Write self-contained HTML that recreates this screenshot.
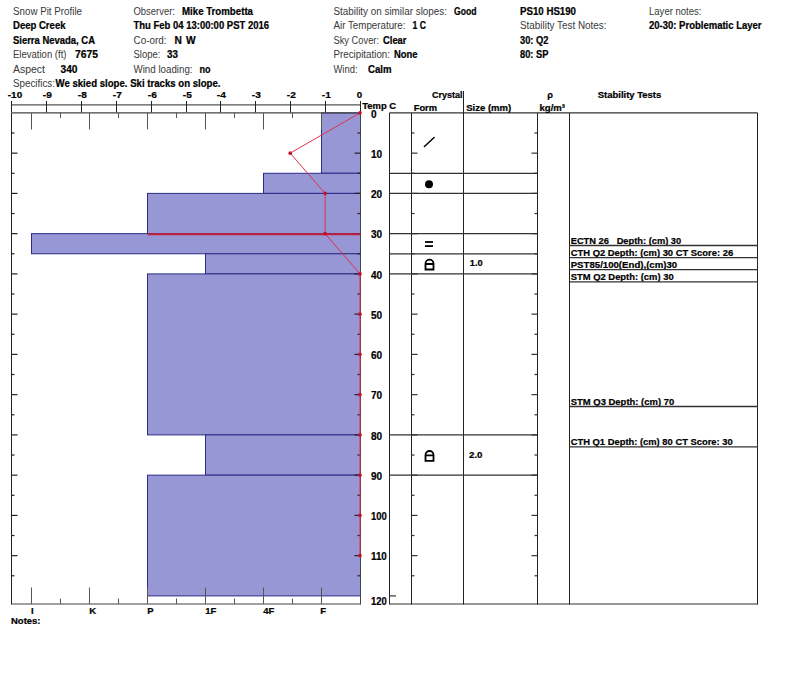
<!DOCTYPE html>
<html><head><meta charset="utf-8"><title>Snow Pit Profile</title>
<style>
html,body{margin:0;padding:0;background:#fff;}
body{width:800px;height:676px;overflow:hidden;}
svg{display:block;font-family:'Liberation Sans', Arial, sans-serif;}
.b{stroke:#000;stroke-width:0.22px;}
</style></head><body>
<svg width="800" height="676" viewBox="0 0 800 676">
<rect width="800" height="676" fill="#fff"/>
<text x="13" y="14.9" font-size="10" textLength="69" lengthAdjust="spacingAndGlyphs" fill="#383838" xml:space="preserve">Snow Pit Profile</text>
<text x="13" y="29.35" font-size="10.2" font-weight="bold" class="b" textLength="52.5" lengthAdjust="spacingAndGlyphs" xml:space="preserve">Deep Creek</text>
<text x="13" y="43.8" font-size="10.2" font-weight="bold" class="b" textLength="82" lengthAdjust="spacingAndGlyphs" xml:space="preserve">Sierra Nevada, CA</text>
<text x="13" y="58.25" font-size="10" textLength="53.5" lengthAdjust="spacingAndGlyphs" fill="#383838" xml:space="preserve">Elevation (ft)</text>
<text x="75" y="58.25" font-size="10.2" font-weight="bold" class="b" textLength="23" lengthAdjust="spacingAndGlyphs" xml:space="preserve">7675</text>
<text x="13" y="72.7" font-size="10" textLength="32" lengthAdjust="spacingAndGlyphs" fill="#383838" xml:space="preserve">Aspect</text>
<text x="60.5" y="72.7" font-size="10.2" font-weight="bold" class="b" textLength="17" lengthAdjust="spacingAndGlyphs" xml:space="preserve">340</text>
<text x="13" y="87.15" font-size="10" textLength="42" lengthAdjust="spacingAndGlyphs" fill="#383838" xml:space="preserve">Specifics:</text>
<text x="55.5" y="87.15" font-size="10.2" font-weight="bold" class="b" textLength="165" lengthAdjust="spacingAndGlyphs" xml:space="preserve">We skied slope. Ski tracks on slope.</text>
<text x="133.5" y="14.9" font-size="10" textLength="41.5" lengthAdjust="spacingAndGlyphs" fill="#383838" xml:space="preserve">Observer:</text>
<text x="182" y="14.9" font-size="10.2" font-weight="bold" class="b" textLength="71" lengthAdjust="spacingAndGlyphs" xml:space="preserve">Mike Trombetta</text>
<text x="133.5" y="29.35" font-size="10.2" font-weight="bold" class="b" textLength="135.5" lengthAdjust="spacingAndGlyphs" xml:space="preserve">Thu Feb 04 13:00:00 PST 2016</text>
<text x="133.5" y="43.8" font-size="10" textLength="33" lengthAdjust="spacingAndGlyphs" fill="#383838" xml:space="preserve">Co-ord:</text>
<text x="174.5" y="43.8" font-size="10.2" font-weight="bold" class="b" xml:space="preserve">N</text>
<text x="186" y="43.8" font-size="10.2" font-weight="bold" class="b" xml:space="preserve">W</text>
<text x="133.5" y="58.25" font-size="10" textLength="27" lengthAdjust="spacingAndGlyphs" fill="#383838" xml:space="preserve">Slope:</text>
<text x="167" y="58.25" font-size="10.2" font-weight="bold" class="b" textLength="11" lengthAdjust="spacingAndGlyphs" xml:space="preserve">33</text>
<text x="133.5" y="72.7" font-size="10" textLength="59" lengthAdjust="spacingAndGlyphs" fill="#383838" xml:space="preserve">Wind loading:</text>
<text x="199.5" y="72.7" font-size="10.2" font-weight="bold" class="b" textLength="11" lengthAdjust="spacingAndGlyphs" xml:space="preserve">no</text>
<text x="333.5" y="14.9" font-size="10" textLength="113.5" lengthAdjust="spacingAndGlyphs" fill="#383838" xml:space="preserve">Stability on similar slopes:</text>
<text x="454" y="14.9" font-size="10.2" font-weight="bold" class="b" textLength="22.5" lengthAdjust="spacingAndGlyphs" xml:space="preserve">Good</text>
<text x="333.5" y="29.35" font-size="10" textLength="72" lengthAdjust="spacingAndGlyphs" fill="#383838" xml:space="preserve">Air Temperature:</text>
<text x="412.5" y="29.35" font-size="10.2" font-weight="bold" class="b" textLength="13.5" lengthAdjust="spacingAndGlyphs" xml:space="preserve">1 C</text>
<text x="333.5" y="43.8" font-size="10" textLength="45.5" lengthAdjust="spacingAndGlyphs" fill="#383838" xml:space="preserve">Sky Cover:</text>
<text x="383" y="43.8" font-size="10.2" font-weight="bold" class="b" textLength="23.5" lengthAdjust="spacingAndGlyphs" xml:space="preserve">Clear</text>
<text x="333.5" y="58.25" font-size="10" textLength="56.5" lengthAdjust="spacingAndGlyphs" fill="#383838" xml:space="preserve">Precipitation:</text>
<text x="394" y="58.25" font-size="10.2" font-weight="bold" class="b" textLength="23.5" lengthAdjust="spacingAndGlyphs" xml:space="preserve">None</text>
<text x="333.5" y="72.7" font-size="10" textLength="24" lengthAdjust="spacingAndGlyphs" fill="#383838" xml:space="preserve">Wind:</text>
<text x="368" y="72.7" font-size="10.2" font-weight="bold" class="b" textLength="23.5" lengthAdjust="spacingAndGlyphs" xml:space="preserve">Calm</text>
<text x="520" y="14.9" font-size="10.2" font-weight="bold" class="b" textLength="56" lengthAdjust="spacingAndGlyphs" xml:space="preserve">PS10 HS190</text>
<text x="520" y="29.35" font-size="10" textLength="86.5" lengthAdjust="spacingAndGlyphs" fill="#383838" xml:space="preserve">Stability Test Notes:</text>
<text x="520" y="43.8" font-size="10.2" font-weight="bold" class="b" textLength="28.5" lengthAdjust="spacingAndGlyphs" xml:space="preserve">30: Q2</text>
<text x="520" y="58.25" font-size="10.2" font-weight="bold" class="b" textLength="28.5" lengthAdjust="spacingAndGlyphs" xml:space="preserve">80: SP</text>
<text x="649" y="14.9" font-size="10" textLength="52.5" lengthAdjust="spacingAndGlyphs" fill="#383838" xml:space="preserve">Layer notes:</text>
<text x="649" y="29.35" font-size="10.2" font-weight="bold" class="b" textLength="112.5" lengthAdjust="spacingAndGlyphs" xml:space="preserve">20-30: Problematic Layer</text>
<line x1="11" y1="104.9" x2="361" y2="104.9" stroke="#555" stroke-width="1.4"/>
<line x1="11.5" y1="101" x2="11.5" y2="112.5" stroke="#222" stroke-width="1"/>
<text x="7.8" y="98.0" font-size="9.8" font-weight="bold" class="b" textLength="14.4" lengthAdjust="spacingAndGlyphs" xml:space="preserve">-10</text>
<line x1="46.5" y1="101" x2="46.5" y2="112.5" stroke="#222" stroke-width="1"/>
<text x="42.8" y="98.0" font-size="9.8" font-weight="bold" class="b" textLength="9.0" lengthAdjust="spacingAndGlyphs" xml:space="preserve">-9</text>
<line x1="81.5" y1="101" x2="81.5" y2="112.5" stroke="#222" stroke-width="1"/>
<text x="77.8" y="98.0" font-size="9.8" font-weight="bold" class="b" textLength="9.0" lengthAdjust="spacingAndGlyphs" xml:space="preserve">-8</text>
<line x1="116.5" y1="101" x2="116.5" y2="112.5" stroke="#222" stroke-width="1"/>
<text x="112.8" y="98.0" font-size="9.8" font-weight="bold" class="b" textLength="9.0" lengthAdjust="spacingAndGlyphs" xml:space="preserve">-7</text>
<line x1="151.5" y1="101" x2="151.5" y2="112.5" stroke="#222" stroke-width="1"/>
<text x="147.8" y="98.0" font-size="9.8" font-weight="bold" class="b" textLength="9.0" lengthAdjust="spacingAndGlyphs" xml:space="preserve">-6</text>
<line x1="186.5" y1="101" x2="186.5" y2="112.5" stroke="#222" stroke-width="1"/>
<text x="182.8" y="98.0" font-size="9.8" font-weight="bold" class="b" textLength="9.0" lengthAdjust="spacingAndGlyphs" xml:space="preserve">-5</text>
<line x1="220.5" y1="101" x2="220.5" y2="112.5" stroke="#222" stroke-width="1"/>
<text x="216.8" y="98.0" font-size="9.8" font-weight="bold" class="b" textLength="9.0" lengthAdjust="spacingAndGlyphs" xml:space="preserve">-4</text>
<line x1="255.5" y1="101" x2="255.5" y2="112.5" stroke="#222" stroke-width="1"/>
<text x="251.8" y="98.0" font-size="9.8" font-weight="bold" class="b" textLength="9.0" lengthAdjust="spacingAndGlyphs" xml:space="preserve">-3</text>
<line x1="290.5" y1="101" x2="290.5" y2="112.5" stroke="#222" stroke-width="1"/>
<text x="286.8" y="98.0" font-size="9.8" font-weight="bold" class="b" textLength="9.0" lengthAdjust="spacingAndGlyphs" xml:space="preserve">-2</text>
<line x1="325.5" y1="101" x2="325.5" y2="112.5" stroke="#222" stroke-width="1"/>
<text x="321.8" y="98.0" font-size="9.8" font-weight="bold" class="b" textLength="9.0" lengthAdjust="spacingAndGlyphs" xml:space="preserve">-1</text>
<line x1="360.5" y1="101" x2="360.5" y2="112.5" stroke="#222" stroke-width="1"/>
<text x="356.8" y="98.0" font-size="9.8" font-weight="bold" class="b" textLength="5.4" lengthAdjust="spacingAndGlyphs" xml:space="preserve">0</text>
<rect x="321.5" y="112.90" width="39.0" height="60.38" fill="#9797d6" stroke="#2c2c86" stroke-width="1"/>
<rect x="263.5" y="173.28" width="97.0" height="20.12" fill="#9797d6" stroke="#2c2c86" stroke-width="1"/>
<rect x="147.5" y="193.40" width="213.0" height="40.25" fill="#9797d6" stroke="#2c2c86" stroke-width="1"/>
<rect x="31.5" y="233.65" width="329.0" height="20.12" fill="#9797d6" stroke="#2c2c86" stroke-width="1"/>
<rect x="205.5" y="253.78" width="155.0" height="20.12" fill="#9797d6" stroke="#2c2c86" stroke-width="1"/>
<rect x="147.5" y="273.90" width="213.0" height="161.00" fill="#9797d6" stroke="#2c2c86" stroke-width="1"/>
<rect x="205.5" y="434.90" width="155.0" height="40.25" fill="#9797d6" stroke="#2c2c86" stroke-width="1"/>
<rect x="147.5" y="475.15" width="213.0" height="120.75" fill="#9797d6" stroke="#2c2c86" stroke-width="1"/>
<line x1="11.5" y1="112.9" x2="11.5" y2="604.5" stroke="#222" stroke-width="1"/>
<line x1="360.5" y1="112.9" x2="360.5" y2="604.5" stroke="#444" stroke-width="1"/>
<line x1="11.5" y1="112.9" x2="360.5" y2="112.9" stroke="#444" stroke-width="1.4"/>
<line x1="11.5" y1="604" x2="360.5" y2="604" stroke="#444" stroke-width="1.2"/>
<line x1="31.5" y1="112.9" x2="31.5" y2="129.5" stroke="#555" stroke-width="1"/>
<line x1="31.5" y1="587.5" x2="31.5" y2="604" stroke="#555" stroke-width="1"/>
<line x1="60.5" y1="112.9" x2="60.5" y2="118" stroke="#555" stroke-width="1"/>
<line x1="60.5" y1="598.5" x2="60.5" y2="604" stroke="#555" stroke-width="1"/>
<line x1="89.5" y1="112.9" x2="89.5" y2="129.5" stroke="#555" stroke-width="1"/>
<line x1="89.5" y1="587.5" x2="89.5" y2="604" stroke="#555" stroke-width="1"/>
<line x1="118.5" y1="112.9" x2="118.5" y2="118" stroke="#555" stroke-width="1"/>
<line x1="118.5" y1="598.5" x2="118.5" y2="604" stroke="#555" stroke-width="1"/>
<line x1="147.5" y1="112.9" x2="147.5" y2="129.5" stroke="#555" stroke-width="1"/>
<line x1="147.5" y1="587.5" x2="147.5" y2="604" stroke="#555" stroke-width="1"/>
<line x1="176.5" y1="112.9" x2="176.5" y2="118" stroke="#555" stroke-width="1"/>
<line x1="176.5" y1="598.5" x2="176.5" y2="604" stroke="#555" stroke-width="1"/>
<line x1="205.5" y1="112.9" x2="205.5" y2="129.5" stroke="#555" stroke-width="1"/>
<line x1="205.5" y1="587.5" x2="205.5" y2="604" stroke="#555" stroke-width="1"/>
<line x1="234.5" y1="112.9" x2="234.5" y2="118" stroke="#555" stroke-width="1"/>
<line x1="234.5" y1="598.5" x2="234.5" y2="604" stroke="#555" stroke-width="1"/>
<line x1="263.5" y1="112.9" x2="263.5" y2="129.5" stroke="#555" stroke-width="1"/>
<line x1="263.5" y1="587.5" x2="263.5" y2="604" stroke="#555" stroke-width="1"/>
<line x1="292.5" y1="112.9" x2="292.5" y2="118" stroke="#555" stroke-width="1"/>
<line x1="292.5" y1="598.5" x2="292.5" y2="604" stroke="#555" stroke-width="1"/>
<line x1="321.5" y1="112.9" x2="321.5" y2="129.5" stroke="#555" stroke-width="1"/>
<line x1="321.5" y1="587.5" x2="321.5" y2="604" stroke="#555" stroke-width="1"/>
<line x1="11.5" y1="133.025" x2="14.5" y2="133.025" stroke="#222" stroke-width="1.2"/>
<line x1="357.5" y1="133.025" x2="360.5" y2="133.025" stroke="#222" stroke-width="1.2"/>
<line x1="11.5" y1="153.15" x2="17.5" y2="153.15" stroke="#222" stroke-width="1.2"/>
<line x1="354.5" y1="153.15" x2="360.5" y2="153.15" stroke="#222" stroke-width="1.2"/>
<line x1="11.5" y1="173.275" x2="14.5" y2="173.275" stroke="#222" stroke-width="1.2"/>
<line x1="357.5" y1="173.275" x2="360.5" y2="173.275" stroke="#222" stroke-width="1.2"/>
<line x1="11.5" y1="193.4" x2="17.5" y2="193.4" stroke="#222" stroke-width="1.2"/>
<line x1="354.5" y1="193.4" x2="360.5" y2="193.4" stroke="#222" stroke-width="1.2"/>
<line x1="11.5" y1="213.52500000000003" x2="14.5" y2="213.52500000000003" stroke="#222" stroke-width="1.2"/>
<line x1="357.5" y1="213.52500000000003" x2="360.5" y2="213.52500000000003" stroke="#222" stroke-width="1.2"/>
<line x1="11.5" y1="233.65000000000003" x2="17.5" y2="233.65000000000003" stroke="#222" stroke-width="1.2"/>
<line x1="354.5" y1="233.65000000000003" x2="360.5" y2="233.65000000000003" stroke="#222" stroke-width="1.2"/>
<line x1="11.5" y1="253.775" x2="14.5" y2="253.775" stroke="#222" stroke-width="1.2"/>
<line x1="357.5" y1="253.775" x2="360.5" y2="253.775" stroke="#222" stroke-width="1.2"/>
<line x1="11.5" y1="273.9" x2="17.5" y2="273.9" stroke="#222" stroke-width="1.2"/>
<line x1="354.5" y1="273.9" x2="360.5" y2="273.9" stroke="#222" stroke-width="1.2"/>
<line x1="11.5" y1="294.02500000000003" x2="14.5" y2="294.02500000000003" stroke="#222" stroke-width="1.2"/>
<line x1="357.5" y1="294.02500000000003" x2="360.5" y2="294.02500000000003" stroke="#222" stroke-width="1.2"/>
<line x1="11.5" y1="314.15000000000003" x2="17.5" y2="314.15000000000003" stroke="#222" stroke-width="1.2"/>
<line x1="354.5" y1="314.15000000000003" x2="360.5" y2="314.15000000000003" stroke="#222" stroke-width="1.2"/>
<line x1="11.5" y1="334.27500000000003" x2="14.5" y2="334.27500000000003" stroke="#222" stroke-width="1.2"/>
<line x1="357.5" y1="334.27500000000003" x2="360.5" y2="334.27500000000003" stroke="#222" stroke-width="1.2"/>
<line x1="11.5" y1="354.40000000000003" x2="17.5" y2="354.40000000000003" stroke="#222" stroke-width="1.2"/>
<line x1="354.5" y1="354.40000000000003" x2="360.5" y2="354.40000000000003" stroke="#222" stroke-width="1.2"/>
<line x1="11.5" y1="374.525" x2="14.5" y2="374.525" stroke="#222" stroke-width="1.2"/>
<line x1="357.5" y1="374.525" x2="360.5" y2="374.525" stroke="#222" stroke-width="1.2"/>
<line x1="11.5" y1="394.65" x2="17.5" y2="394.65" stroke="#222" stroke-width="1.2"/>
<line x1="354.5" y1="394.65" x2="360.5" y2="394.65" stroke="#222" stroke-width="1.2"/>
<line x1="11.5" y1="414.775" x2="14.5" y2="414.775" stroke="#222" stroke-width="1.2"/>
<line x1="357.5" y1="414.775" x2="360.5" y2="414.775" stroke="#222" stroke-width="1.2"/>
<line x1="11.5" y1="434.9" x2="17.5" y2="434.9" stroke="#222" stroke-width="1.2"/>
<line x1="354.5" y1="434.9" x2="360.5" y2="434.9" stroke="#222" stroke-width="1.2"/>
<line x1="11.5" y1="455.0250000000001" x2="14.5" y2="455.0250000000001" stroke="#222" stroke-width="1.2"/>
<line x1="357.5" y1="455.0250000000001" x2="360.5" y2="455.0250000000001" stroke="#222" stroke-width="1.2"/>
<line x1="11.5" y1="475.1500000000001" x2="17.5" y2="475.1500000000001" stroke="#222" stroke-width="1.2"/>
<line x1="354.5" y1="475.1500000000001" x2="360.5" y2="475.1500000000001" stroke="#222" stroke-width="1.2"/>
<line x1="11.5" y1="495.2750000000001" x2="14.5" y2="495.2750000000001" stroke="#222" stroke-width="1.2"/>
<line x1="357.5" y1="495.2750000000001" x2="360.5" y2="495.2750000000001" stroke="#222" stroke-width="1.2"/>
<line x1="11.5" y1="515.4000000000001" x2="17.5" y2="515.4000000000001" stroke="#222" stroke-width="1.2"/>
<line x1="354.5" y1="515.4000000000001" x2="360.5" y2="515.4000000000001" stroke="#222" stroke-width="1.2"/>
<line x1="11.5" y1="535.5250000000001" x2="14.5" y2="535.5250000000001" stroke="#222" stroke-width="1.2"/>
<line x1="357.5" y1="535.5250000000001" x2="360.5" y2="535.5250000000001" stroke="#222" stroke-width="1.2"/>
<line x1="11.5" y1="555.6500000000001" x2="17.5" y2="555.6500000000001" stroke="#222" stroke-width="1.2"/>
<line x1="354.5" y1="555.6500000000001" x2="360.5" y2="555.6500000000001" stroke="#222" stroke-width="1.2"/>
<line x1="11.5" y1="575.7750000000001" x2="14.5" y2="575.7750000000001" stroke="#222" stroke-width="1.2"/>
<line x1="357.5" y1="575.7750000000001" x2="360.5" y2="575.7750000000001" stroke="#222" stroke-width="1.2"/>
<line x1="147.5" y1="234.25000000000003" x2="360.5" y2="234.25000000000003" stroke="#c8203c" stroke-width="1.8"/>
<polyline points="360.00,112.90 290.20,153.15 325.10,193.40 325.10,233.65 360.00,273.90 360.00,314.15 360.00,354.40 360.00,394.65 360.00,434.90 360.00,475.15 360.00,515.40 360.00,555.65" fill="none" stroke="#e0304c" stroke-width="1"/>
<circle cx="360.00" cy="112.90" r="1.8" fill="#c0102c"/>
<circle cx="290.20" cy="153.15" r="1.8" fill="#c0102c"/>
<circle cx="325.10" cy="193.40" r="1.8" fill="#c0102c"/>
<circle cx="325.10" cy="233.65" r="1.8" fill="#c0102c"/>
<circle cx="360.00" cy="273.90" r="1.8" fill="#c0102c"/>
<circle cx="360.00" cy="314.15" r="1.8" fill="#c0102c"/>
<circle cx="360.00" cy="354.40" r="1.8" fill="#c0102c"/>
<circle cx="360.00" cy="394.65" r="1.8" fill="#c0102c"/>
<circle cx="360.00" cy="434.90" r="1.8" fill="#c0102c"/>
<circle cx="360.00" cy="475.15" r="1.8" fill="#c0102c"/>
<circle cx="360.00" cy="515.40" r="1.8" fill="#c0102c"/>
<circle cx="360.00" cy="555.65" r="1.8" fill="#c0102c"/>
<text x="371" y="117.5" font-size="10.5" font-weight="bold" class="b" textLength="5.6" lengthAdjust="spacingAndGlyphs" xml:space="preserve">0</text>
<text x="371" y="157.75" font-size="10.5" font-weight="bold" class="b" textLength="11.2" lengthAdjust="spacingAndGlyphs" xml:space="preserve">10</text>
<text x="371" y="198.0" font-size="10.5" font-weight="bold" class="b" textLength="11.2" lengthAdjust="spacingAndGlyphs" xml:space="preserve">20</text>
<text x="371" y="238.25" font-size="10.5" font-weight="bold" class="b" textLength="11.2" lengthAdjust="spacingAndGlyphs" xml:space="preserve">30</text>
<text x="371" y="278.5" font-size="10.5" font-weight="bold" class="b" textLength="11.2" lengthAdjust="spacingAndGlyphs" xml:space="preserve">40</text>
<text x="371" y="318.75" font-size="10.5" font-weight="bold" class="b" textLength="11.2" lengthAdjust="spacingAndGlyphs" xml:space="preserve">50</text>
<text x="371" y="359.0" font-size="10.5" font-weight="bold" class="b" textLength="11.2" lengthAdjust="spacingAndGlyphs" xml:space="preserve">60</text>
<text x="371" y="399.25" font-size="10.5" font-weight="bold" class="b" textLength="11.2" lengthAdjust="spacingAndGlyphs" xml:space="preserve">70</text>
<text x="371" y="439.5" font-size="10.5" font-weight="bold" class="b" textLength="11.2" lengthAdjust="spacingAndGlyphs" xml:space="preserve">80</text>
<text x="371" y="479.75" font-size="10.5" font-weight="bold" class="b" textLength="11.2" lengthAdjust="spacingAndGlyphs" xml:space="preserve">90</text>
<text x="371" y="520.0" font-size="10.5" font-weight="bold" class="b" textLength="15.8" lengthAdjust="spacingAndGlyphs" xml:space="preserve">100</text>
<text x="371" y="560.25" font-size="10.5" font-weight="bold" class="b" textLength="15.8" lengthAdjust="spacingAndGlyphs" xml:space="preserve">110</text>
<text x="371" y="604.9" font-size="10.5" font-weight="bold" class="b" textLength="15.8" lengthAdjust="spacingAndGlyphs" xml:space="preserve">120</text>
<text x="362.2" y="109.1" font-size="9.3" font-weight="bold" class="b" textLength="34" lengthAdjust="spacingAndGlyphs" xml:space="preserve">Temp C</text>
<text x="31.0" y="613.9" font-size="9.5" font-weight="bold" class="b" xml:space="preserve">I</text>
<text x="89.3" y="613.9" font-size="9.5" font-weight="bold" class="b" xml:space="preserve">K</text>
<text x="147.3" y="613.9" font-size="9.5" font-weight="bold" class="b" xml:space="preserve">P</text>
<text x="205.3" y="613.9" font-size="9.5" font-weight="bold" class="b" xml:space="preserve">1F</text>
<text x="263.3" y="613.9" font-size="9.5" font-weight="bold" class="b" xml:space="preserve">4F</text>
<text x="320.3" y="613.9" font-size="9.5" font-weight="bold" class="b" xml:space="preserve">F</text>
<text x="11" y="623.7" font-size="9.6" font-weight="bold" class="b" textLength="29.5" lengthAdjust="spacingAndGlyphs" xml:space="preserve">Notes:</text>
<line x1="389.5" y1="112.9" x2="757.5" y2="112.9" stroke="#333" stroke-width="1.3"/>
<line x1="389.5" y1="604" x2="757.5" y2="604" stroke="#333" stroke-width="1.2"/>
<line x1="389.5" y1="112.9" x2="389.5" y2="604.5" stroke="#222" stroke-width="1"/>
<line x1="411.5" y1="112.9" x2="411.5" y2="604.5" stroke="#222" stroke-width="1"/>
<line x1="463.5" y1="91" x2="463.5" y2="604.5" stroke="#222" stroke-width="1"/>
<line x1="537.5" y1="112.9" x2="537.5" y2="604.5" stroke="#222" stroke-width="1"/>
<line x1="569.5" y1="112.9" x2="569.5" y2="604.5" stroke="#222" stroke-width="1"/>
<line x1="757.5" y1="112.9" x2="757.5" y2="604.5" stroke="#222" stroke-width="1"/>
<line x1="389.5" y1="173.275" x2="537.5" y2="173.275" stroke="#333" stroke-width="1.3"/>
<line x1="389.5" y1="193.4" x2="537.5" y2="193.4" stroke="#333" stroke-width="1.3"/>
<line x1="389.5" y1="233.65000000000003" x2="537.5" y2="233.65000000000003" stroke="#333" stroke-width="1.3"/>
<line x1="389.5" y1="253.775" x2="537.5" y2="253.775" stroke="#333" stroke-width="1.3"/>
<line x1="389.5" y1="273.9" x2="537.5" y2="273.9" stroke="#333" stroke-width="1.3"/>
<line x1="389.5" y1="434.9" x2="537.5" y2="434.9" stroke="#333" stroke-width="1.3"/>
<line x1="389.5" y1="475.1500000000001" x2="537.5" y2="475.1500000000001" stroke="#333" stroke-width="1.3"/>
<line x1="389.5" y1="595.9000000000001" x2="396.0" y2="595.9000000000001" stroke="#444" stroke-width="1.3"/>
<line x1="411.5" y1="133.025" x2="414.5" y2="133.025" stroke="#333" stroke-width="1.2"/>
<line x1="534.5" y1="133.025" x2="537.5" y2="133.025" stroke="#333" stroke-width="1.2"/>
<line x1="411.5" y1="153.15" x2="417.5" y2="153.15" stroke="#333" stroke-width="1.2"/>
<line x1="531.5" y1="153.15" x2="537.5" y2="153.15" stroke="#333" stroke-width="1.2"/>
<line x1="411.5" y1="173.275" x2="414.5" y2="173.275" stroke="#333" stroke-width="1.2"/>
<line x1="534.5" y1="173.275" x2="537.5" y2="173.275" stroke="#333" stroke-width="1.2"/>
<line x1="411.5" y1="193.4" x2="417.5" y2="193.4" stroke="#333" stroke-width="1.2"/>
<line x1="531.5" y1="193.4" x2="537.5" y2="193.4" stroke="#333" stroke-width="1.2"/>
<line x1="411.5" y1="213.52500000000003" x2="414.5" y2="213.52500000000003" stroke="#333" stroke-width="1.2"/>
<line x1="534.5" y1="213.52500000000003" x2="537.5" y2="213.52500000000003" stroke="#333" stroke-width="1.2"/>
<line x1="411.5" y1="233.65000000000003" x2="417.5" y2="233.65000000000003" stroke="#333" stroke-width="1.2"/>
<line x1="531.5" y1="233.65000000000003" x2="537.5" y2="233.65000000000003" stroke="#333" stroke-width="1.2"/>
<line x1="411.5" y1="253.775" x2="414.5" y2="253.775" stroke="#333" stroke-width="1.2"/>
<line x1="534.5" y1="253.775" x2="537.5" y2="253.775" stroke="#333" stroke-width="1.2"/>
<line x1="411.5" y1="273.9" x2="417.5" y2="273.9" stroke="#333" stroke-width="1.2"/>
<line x1="531.5" y1="273.9" x2="537.5" y2="273.9" stroke="#333" stroke-width="1.2"/>
<line x1="411.5" y1="294.02500000000003" x2="414.5" y2="294.02500000000003" stroke="#333" stroke-width="1.2"/>
<line x1="534.5" y1="294.02500000000003" x2="537.5" y2="294.02500000000003" stroke="#333" stroke-width="1.2"/>
<line x1="411.5" y1="314.15000000000003" x2="417.5" y2="314.15000000000003" stroke="#333" stroke-width="1.2"/>
<line x1="531.5" y1="314.15000000000003" x2="537.5" y2="314.15000000000003" stroke="#333" stroke-width="1.2"/>
<line x1="411.5" y1="334.27500000000003" x2="414.5" y2="334.27500000000003" stroke="#333" stroke-width="1.2"/>
<line x1="534.5" y1="334.27500000000003" x2="537.5" y2="334.27500000000003" stroke="#333" stroke-width="1.2"/>
<line x1="411.5" y1="354.40000000000003" x2="417.5" y2="354.40000000000003" stroke="#333" stroke-width="1.2"/>
<line x1="531.5" y1="354.40000000000003" x2="537.5" y2="354.40000000000003" stroke="#333" stroke-width="1.2"/>
<line x1="411.5" y1="374.525" x2="414.5" y2="374.525" stroke="#333" stroke-width="1.2"/>
<line x1="534.5" y1="374.525" x2="537.5" y2="374.525" stroke="#333" stroke-width="1.2"/>
<line x1="411.5" y1="394.65" x2="417.5" y2="394.65" stroke="#333" stroke-width="1.2"/>
<line x1="531.5" y1="394.65" x2="537.5" y2="394.65" stroke="#333" stroke-width="1.2"/>
<line x1="411.5" y1="414.775" x2="414.5" y2="414.775" stroke="#333" stroke-width="1.2"/>
<line x1="534.5" y1="414.775" x2="537.5" y2="414.775" stroke="#333" stroke-width="1.2"/>
<line x1="411.5" y1="434.9" x2="417.5" y2="434.9" stroke="#333" stroke-width="1.2"/>
<line x1="531.5" y1="434.9" x2="537.5" y2="434.9" stroke="#333" stroke-width="1.2"/>
<line x1="411.5" y1="455.0250000000001" x2="414.5" y2="455.0250000000001" stroke="#333" stroke-width="1.2"/>
<line x1="534.5" y1="455.0250000000001" x2="537.5" y2="455.0250000000001" stroke="#333" stroke-width="1.2"/>
<line x1="411.5" y1="475.1500000000001" x2="417.5" y2="475.1500000000001" stroke="#333" stroke-width="1.2"/>
<line x1="531.5" y1="475.1500000000001" x2="537.5" y2="475.1500000000001" stroke="#333" stroke-width="1.2"/>
<line x1="411.5" y1="495.2750000000001" x2="414.5" y2="495.2750000000001" stroke="#333" stroke-width="1.2"/>
<line x1="534.5" y1="495.2750000000001" x2="537.5" y2="495.2750000000001" stroke="#333" stroke-width="1.2"/>
<line x1="411.5" y1="515.4000000000001" x2="417.5" y2="515.4000000000001" stroke="#333" stroke-width="1.2"/>
<line x1="531.5" y1="515.4000000000001" x2="537.5" y2="515.4000000000001" stroke="#333" stroke-width="1.2"/>
<line x1="411.5" y1="535.5250000000001" x2="414.5" y2="535.5250000000001" stroke="#333" stroke-width="1.2"/>
<line x1="534.5" y1="535.5250000000001" x2="537.5" y2="535.5250000000001" stroke="#333" stroke-width="1.2"/>
<line x1="411.5" y1="555.6500000000001" x2="417.5" y2="555.6500000000001" stroke="#333" stroke-width="1.2"/>
<line x1="531.5" y1="555.6500000000001" x2="537.5" y2="555.6500000000001" stroke="#333" stroke-width="1.2"/>
<line x1="411.5" y1="575.7750000000001" x2="414.5" y2="575.7750000000001" stroke="#333" stroke-width="1.2"/>
<line x1="534.5" y1="575.7750000000001" x2="537.5" y2="575.7750000000001" stroke="#333" stroke-width="1.2"/>
<text x="432" y="98.0" font-size="9.2" font-weight="bold" class="b" textLength="30.5" lengthAdjust="spacingAndGlyphs" xml:space="preserve">Crystal</text>
<text x="413.7" y="110.9" font-size="9.2" font-weight="bold" class="b" textLength="23.3" lengthAdjust="spacingAndGlyphs" xml:space="preserve">Form</text>
<text x="466.2" y="110.9" font-size="9.2" font-weight="bold" class="b" textLength="45" lengthAdjust="spacingAndGlyphs" xml:space="preserve">Size (mm)</text>
<text x="550" y="98.0" font-size="9.2" font-weight="bold" class="b" text-anchor="middle" xml:space="preserve">ρ</text>
<text x="539.5" y="110.9" font-size="9.2" font-weight="bold" class="b" textLength="25.5" lengthAdjust="spacingAndGlyphs" xml:space="preserve">kg/m³</text>
<text x="597.8" y="98.0" font-size="9.2" font-weight="bold" class="b" textLength="63.5" lengthAdjust="spacingAndGlyphs" xml:space="preserve">Stability Tests</text>
<line x1="424.4" y1="146.5" x2="434.1" y2="137.5" stroke="#000" stroke-width="1.5" stroke-linecap="round"/>
<circle cx="429" cy="184.2" r="4" fill="#000"/>
<rect x="425" y="241.1" width="8" height="1.8" fill="#000"/><rect x="425" y="245.2" width="8" height="1.8" fill="#000"/>
<path d="M425.5,269.5 L425.5,263.7 A4,4 0 0 1 433.5,263.7 L433.5,269.5 Z M425.5,264.0 L433.5,264.0" fill="none" stroke="#000" stroke-width="1.8"/>
<path d="M425.5,460.8 L425.5,455.0 A4,4 0 0 1 433.5,455.0 L433.5,460.8 Z M425.5,455.3 L433.5,455.3" fill="none" stroke="#000" stroke-width="1.8"/>
<text x="469.8" y="266.4" font-size="9.6" font-weight="bold" class="b" textLength="12.8" lengthAdjust="spacingAndGlyphs" xml:space="preserve">1.0</text>
<text x="469" y="457.6" font-size="9.6" font-weight="bold" class="b" textLength="13.5" lengthAdjust="spacingAndGlyphs" xml:space="preserve">2.0</text>
<text x="570.7" y="243.5" font-size="9.9" font-weight="bold" class="b" textLength="110.5" lengthAdjust="spacingAndGlyphs" xml:space="preserve">ECTN 26   Depth: (cm) 30</text>
<line x1="569.5" y1="245.5" x2="757.5" y2="245.5" stroke="#333" stroke-width="1.3"/>
<text x="570.7" y="255.7" font-size="9.9" font-weight="bold" class="b" textLength="162.5" lengthAdjust="spacingAndGlyphs" xml:space="preserve">CTH Q2 Depth: (cm) 30 CT Score: 26</text>
<line x1="569.5" y1="257.6" x2="757.5" y2="257.6" stroke="#333" stroke-width="1.3"/>
<text x="570.7" y="267.9" font-size="9.9" font-weight="bold" class="b" textLength="106.5" lengthAdjust="spacingAndGlyphs" xml:space="preserve">PST85/100(End),(cm)30</text>
<line x1="569.5" y1="269.7" x2="757.5" y2="269.7" stroke="#333" stroke-width="1.3"/>
<text x="570.7" y="279.7" font-size="9.9" font-weight="bold" class="b" textLength="103" lengthAdjust="spacingAndGlyphs" xml:space="preserve">STM Q2 Depth: (cm) 30</text>
<line x1="569.5" y1="281.8" x2="757.5" y2="281.8" stroke="#333" stroke-width="1.3"/>
<text x="570.7" y="404.6" font-size="9.9" font-weight="bold" class="b" textLength="103.5" lengthAdjust="spacingAndGlyphs" xml:space="preserve">STM Q3 Depth: (cm) 70</text>
<line x1="569.5" y1="406.5" x2="757.5" y2="406.5" stroke="#333" stroke-width="1.3"/>
<text x="570.7" y="444.8" font-size="9.9" font-weight="bold" class="b" textLength="162" lengthAdjust="spacingAndGlyphs" xml:space="preserve">CTH Q1 Depth: (cm) 80 CT Score: 30</text>
<line x1="569.5" y1="446.8" x2="757.5" y2="446.8" stroke="#333" stroke-width="1.3"/>
</svg>
</body></html>
